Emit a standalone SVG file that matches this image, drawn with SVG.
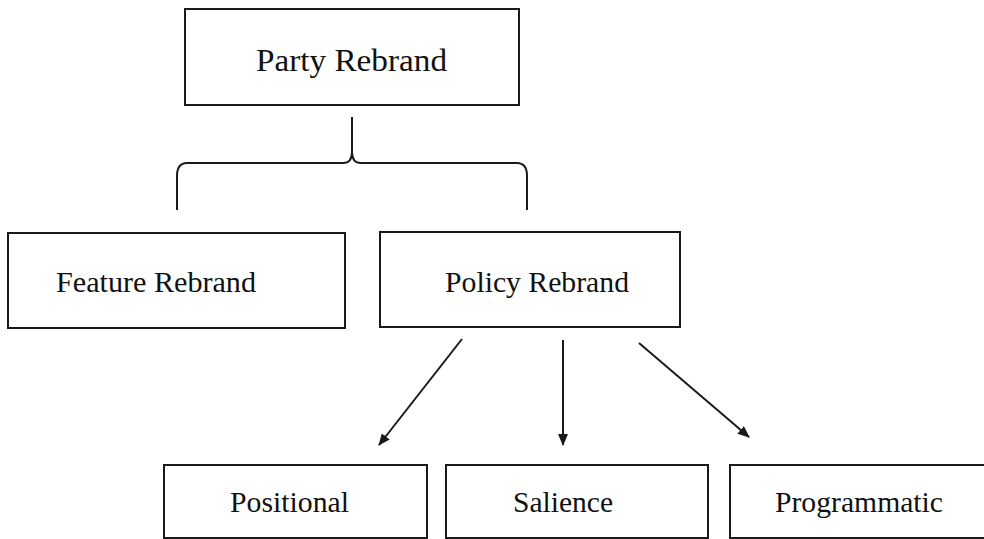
<svg xmlns="http://www.w3.org/2000/svg" width="984" height="539" viewBox="0 0 984 539">
<defs>
<style>
.box{fill:#fff;stroke:#1a1a1a;stroke-width:2}
.lbl{font-family:"Liberation Serif","Times New Roman",serif;font-size:30px;fill:#111;text-anchor:middle}
.con{fill:none;stroke:#1a1a1a;stroke-width:2}
</style>
<marker id="ah" markerWidth="12" markerHeight="10" refX="11" refY="5" orient="auto" markerUnits="userSpaceOnUse">
<path d="M0,0 L12,5 L0,10 Z" fill="#1a1a1a"/>
</marker>
</defs>
<rect width="984" height="539" fill="#fff"/>
<g id="party-rebrand">
<rect class="box" x="185" y="9" width="334" height="96"/>
<text class="lbl" x="351.5" y="71" style="font-size:32px" textLength="191" lengthAdjust="spacingAndGlyphs">Party Rebrand</text>
</g>
<g id="feature-rebrand">
<rect class="box" x="8" y="233" width="337" height="95"/>
<text class="lbl" x="156" y="292" textLength="200" lengthAdjust="spacingAndGlyphs">Feature Rebrand</text>
</g>
<g id="policy-rebrand">
<rect class="box" x="380" y="232" width="300" height="95"/>
<text class="lbl" x="537" y="292" textLength="184" lengthAdjust="spacingAndGlyphs">Policy Rebrand</text>
</g>
<g id="positional">
<rect class="box" x="164" y="465" width="263" height="73"/>
<text class="lbl" x="289.5" y="512" textLength="119" lengthAdjust="spacingAndGlyphs">Positional</text>
</g>
<g id="salience">
<rect class="box" x="446" y="465" width="262" height="73"/>
<text class="lbl" x="563" y="512" textLength="100" lengthAdjust="spacingAndGlyphs">Salience</text>
</g>
<g id="programmatic">
<rect class="box" x="730" y="465" width="262" height="73"/>
<text class="lbl" x="859" y="512" textLength="168" lengthAdjust="spacingAndGlyphs">Programmatic</text>
</g>
<g id="connectors">
<path class="con" d="M177,210 L177,176 Q177,163 187,163 L343,163 Q352,163 352,152 L352,117 M352,152 Q352,163 361,163 L517,163 Q527,163 527,176 L527,210"/>
<line class="con" x1="462" y1="339" x2="379" y2="445" marker-end="url(#ah)"/>
<line class="con" x1="563" y1="340" x2="563" y2="445" marker-end="url(#ah)"/>
<line class="con" x1="639" y1="343" x2="749" y2="437" marker-end="url(#ah)"/>
</g>
</svg>
